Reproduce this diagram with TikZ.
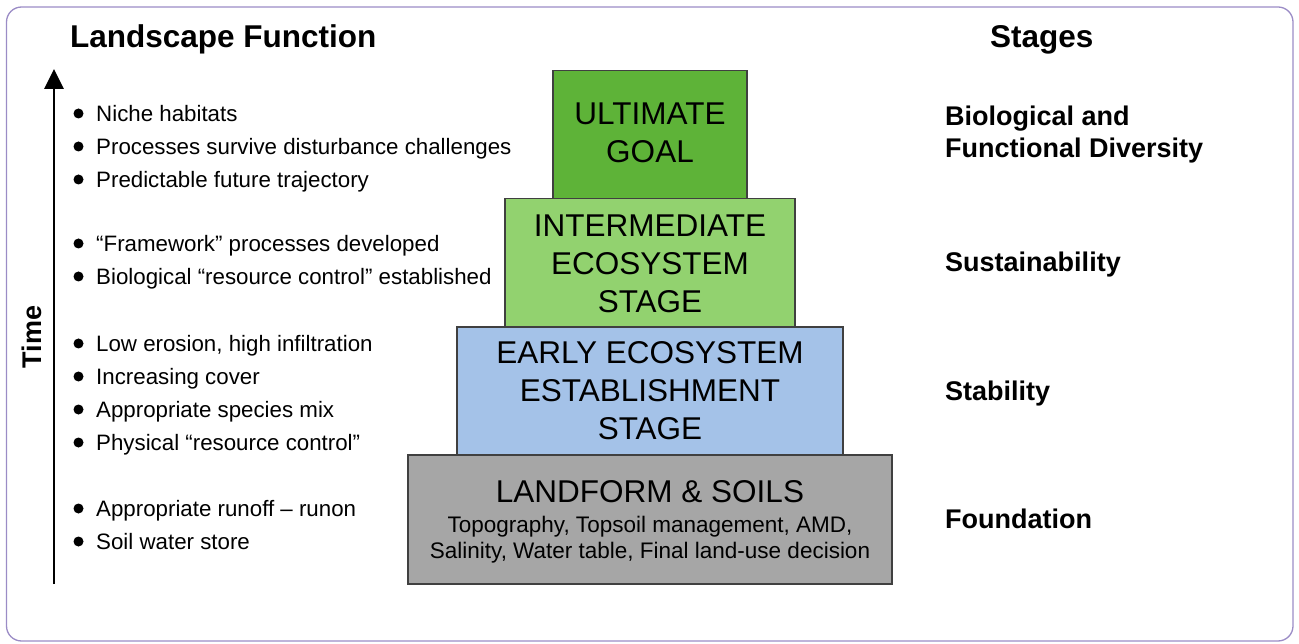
\documentclass[tikz,border=0pt]{standalone}
\usepackage{fontspec}
\setmainfont{Liberation Sans}
\usetikzlibrary{arrows.meta}
\definecolor{framecol}{RGB}{155,140,198}
\definecolor{ultcol}{RGB}{94,179,56}
\definecolor{intcol}{RGB}{146,210,111}
\definecolor{earcol}{RGB}{164,194,232}
\definecolor{lancol}{RGB}{166,166,166}
\definecolor{edgecol}{RGB}{64,64,64}
\tikzset{
  tier/.style={draw=edgecol, line width=1.2pt},
  bul/.style={anchor=base west, inner sep=0pt, font=\fontsize{22.3}{27}\selectfont},
  dot/.style={circle, fill=black, inner sep=0pt, minimum size=10pt},
  boxtxt/.style={anchor=base, inner sep=0pt, font=\fontsize{31.5}{38}\selectfont},
  subtxt/.style={anchor=base, inner sep=0pt, font=\fontsize{22.5}{27}\selectfont},
  stg/.style={anchor=base west, inner sep=0pt, font=\fontsize{27}{32}\selectfont\bfseries},
  ttl/.style={anchor=base west, inner sep=0pt, font=\fontsize{31.5}{38}\selectfont\bfseries},
}
\newcommand{\bitem}[3]{\node[dot] (d#1) at (78.5,#2-8) {};\node[bul] (b#1) at (96,#2) {#3};}
\begin{document}
\begin{tikzpicture}[x=1pt,y=-1pt]
\useasboundingbox (0,0) rectangle (1299,644);
\draw[framecol, line width=1.3pt, rounded corners=15pt] (6.5,7) rectangle (1293,641);
% titles
\node[ttl] (t1) at (70,48) {Landscape Function};
\node[ttl] (t2) at (990,48) {Stages};
% time arrow
\coordinate (abot) at (54,584);
\coordinate (atop) at (54,69);
\draw[line width=2.8pt, -{Triangle[length=20pt,width=19pt]}] (abot) -- (atop);
\node[rotate=90, anchor=center, inner sep=0pt, font=\fontsize{27}{32}\selectfont\bfseries] (time) at (32,337) {Time};
% bullets
\bitem{1}{121.5}{Niche habitats}
\bitem{2}{154.5}{Processes survive disturbance challenges}
\bitem{3}{187.5}{Predictable future trajectory}
\bitem{4}{251.5}{“Framework” processes developed}
\bitem{5}{284.5}{Biological “resource control” established}
\bitem{6}{351.5}{Low erosion, high infiltration}
\bitem{7}{384.5}{Increasing cover}
\bitem{8}{417.5}{Appropriate species mix}
\bitem{9}{450.5}{Physical “resource control”}
\bitem{10}{516.5}{Appropriate runoff – runon}
\bitem{11}{549.5}{Soil water store}
% pyramid
\path[tier, fill=ultcol] (553,70.5) rectangle (747,198.5);
\path[tier, fill=intcol] (505,198.5) rectangle (795,327);
\path[tier, fill=earcol] (457,327) rectangle (843,455);
\path[tier, fill=lancol] (408,455) rectangle (892,584);
\node[boxtxt] (u1) at (650,125) {ULTIMATE};
\node[boxtxt] (u2) at (650,163) {GOAL};
\node[boxtxt] (i1) at (650,237) {INTERMEDIATE};
\node[boxtxt] (i2) at (650,275) {ECOSYSTEM};
\node[boxtxt] (i3) at (650,312.5) {STAGE};
\node[boxtxt] (e1) at (650,363) {EARLY ECOSYSTEM};
\node[boxtxt] (e2) at (650,401) {ESTABLISHMENT};
\node[boxtxt] (e3) at (650,439) {STAGE};
\node[boxtxt] (l1) at (650,502) {LANDFORM \& SOILS};
\node[subtxt] (l2) at (650,532) {Topography, Topsoil management, AMD,};
\node[subtxt] (l3) at (650,558) {Salinity, Water table, Final land-use decision};
% stages
\node[stg] (s1) at (945,126) {Biological and};
\node[stg] (s2) at (945,158) {Functional Diversity};
\node[stg] (s3) at (945,271.5) {Sustainability};
\node[stg] (s4) at (945,400.5) {Stability};
\node[stg] (s5) at (945,528.5) {Foundation};
\end{tikzpicture}
\end{document}
